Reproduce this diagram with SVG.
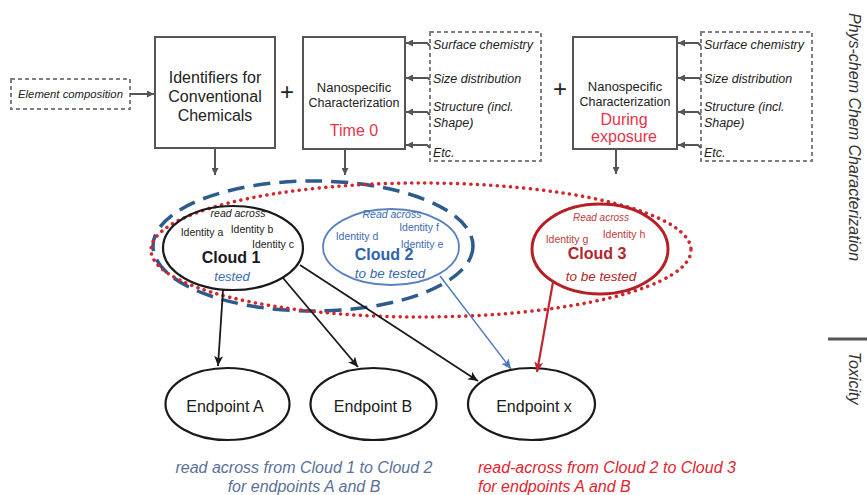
<svg xmlns="http://www.w3.org/2000/svg" width="867" height="495" viewBox="0 0 867 495">
<defs>
<style>
text{font-family:"Liberation Sans",Arial,Helvetica,sans-serif;}
.box{fill:#fff;stroke:#555;stroke-width:2;}
.dbox{fill:none;stroke:#808080;stroke-width:2;stroke-dasharray:4 3;}
.it{font-style:italic;}
.c{text-anchor:middle;}
.lbl{font-size:12.5px;font-style:italic;fill:#222;}
.conn{fill:none;stroke:#555;stroke-width:2;}
.blk{fill:none;stroke:#1a1a1a;stroke-width:1.8;}
.ep{fill:#fff;stroke:#1a1a1a;stroke-width:2.2;}
.id{font-size:10.5px;}
</style>
<marker id="ag" markerUnits="userSpaceOnUse" markerWidth="8" markerHeight="7" refX="7" refY="3.5" orient="auto"><path d="M0,0 L7,3.5 L0,7 z" fill="#555"/></marker>
<marker id="ak" markerUnits="userSpaceOnUse" markerWidth="11" markerHeight="9" refX="10" refY="4.5" orient="auto"><path d="M0,0 L10,4.5 L0,9 L2.5,4.5 z" fill="#1a1a1a"/></marker>
<marker id="ab" markerUnits="userSpaceOnUse" markerWidth="11" markerHeight="9" refX="10" refY="4.5" orient="auto"><path d="M0,0 L10,4.5 L0,9 L2.5,4.5 z" fill="#4a78bd"/></marker>
<marker id="ar" markerUnits="userSpaceOnUse" markerWidth="11" markerHeight="9" refX="10" refY="4.5" orient="auto"><path d="M0,0 L10,4.5 L0,9 L2.5,4.5 z" fill="#c0272d"/></marker>
</defs>
<rect width="867" height="495" fill="#fff"/>

<g id="element-composition">
<rect class="dbox" x="11" y="79" width="119" height="30"/>
<text class="it" x="70.5" y="98" font-size="11.3" text-anchor="middle" fill="#222">Element composition</text>
</g>

<g id="identifiers">
<rect class="box" x="155" y="37" width="120" height="111"/>
<text class="c" x="215" y="83" font-size="16" fill="#222">Identifiers for</text>
<text class="c" x="215" y="102" font-size="16" fill="#222">Conventional</text>
<text class="c" x="215" y="121" font-size="16" fill="#222">Chemicals</text>
</g>

<text x="287" y="100" font-size="24" text-anchor="middle" fill="#222">+</text>

<g id="nano-time0">
<rect class="box" x="303" y="37" width="102" height="112"/>
<text class="c" x="354" y="92" font-size="13" fill="#222">Nanospecific</text>
<text class="c" x="354" y="107" font-size="12.5" fill="#222">Characterization</text>
<text class="c" x="354" y="136" font-size="16" fill="#e8334a">Time 0</text>
</g>

<g id="props-1">
<rect class="dbox" x="430" y="32" width="111" height="129"/>
<text class="lbl" x="433" y="49">Surface chemistry</text>
<text class="lbl" x="433" y="83">Size distribution</text>
<text class="lbl" x="433" y="111">Structure (incl.</text>
<text class="lbl" x="433" y="127">Shape)</text>
<text class="lbl" x="433" y="157">Etc.</text>
</g>

<text x="560" y="97" font-size="24" text-anchor="middle" fill="#222">+</text>

<g id="nano-exposure">
<rect class="box" x="573" y="37" width="104" height="112"/>
<text class="c" x="625" y="91" font-size="13" fill="#222">Nanospecific</text>
<text class="c" x="625" y="106" font-size="12.5" fill="#222">Characterization</text>
<text class="c" x="624" y="125" font-size="16" fill="#e8334a">During</text>
<text class="c" x="624" y="142" font-size="16" fill="#e8334a">exposure</text>
</g>

<g id="props-2">
<rect class="dbox" x="701" y="32" width="111" height="129"/>
<text class="lbl" x="704" y="49">Surface chemistry</text>
<text class="lbl" x="704" y="83">Size distribution</text>
<text class="lbl" x="704" y="111">Structure (incl.</text>
<text class="lbl" x="704" y="127">Shape)</text>
<text class="lbl" x="704" y="157">Etc.</text>
</g>

<g id="groupings">
<ellipse cx="313" cy="246" rx="160" ry="65" fill="none" stroke="#2d5b8c" stroke-width="3.5" stroke-dasharray="17 9"/>
<ellipse cx="421" cy="250" rx="270" ry="67" fill="none" stroke="#d0262c" stroke-width="3.5" stroke-dasharray="0.1 6.5" stroke-linecap="round"/>
</g>

<g id="cloud1">
<ellipse cx="233" cy="248" rx="70" ry="42" fill="none" stroke="#1a1a1a" stroke-width="2.2"/>
<text class="c it id" x="238" y="217" fill="#222">read across</text>
<text class="c id" x="202" y="236" fill="#222">Identity a</text>
<text class="c id" x="252" y="233" fill="#222">Identity b</text>
<text class="c id" x="273" y="248" fill="#222">Identity c</text>
<text class="c" x="231" y="263" font-size="16" font-weight="bold" fill="#1a1a1a">Cloud 1</text>
<text class="c it" x="232" y="281" font-size="13" fill="#3d6cb3">tested</text>
</g>

<g id="cloud2">
<ellipse cx="391" cy="247" rx="68" ry="38" fill="none" stroke="#5a82c0" stroke-width="1.8"/>
<text class="c it id" x="392" y="218" fill="#3d6cb3">Read across</text>
<text class="c id" x="357" y="240" fill="#3d6cb3">Identity d</text>
<text class="c id" x="419" y="231" fill="#3d6cb3">Identity f</text>
<text class="c id" x="422" y="248" fill="#3d6cb3">Identity e</text>
<text class="c" x="384" y="260" font-size="16" font-weight="bold" fill="#2f63ad">Cloud 2</text>
<text class="c it" x="390" y="278" font-size="13.5" fill="#3a68b0">to be tested</text>
</g>

<g id="cloud3">
<ellipse cx="600" cy="249" rx="68" ry="45" fill="none" stroke="#b52025" stroke-width="3"/>
<text class="c it" x="601" y="221" font-size="10" fill="#c0393e">Read across</text>
<text class="c id" x="567" y="243" fill="#c0393e">Identity g</text>
<text class="c id" x="624" y="238" fill="#c0393e">Identity h</text>
<text class="c" x="597" y="259" font-size="16" font-weight="bold" fill="#b3262b">Cloud 3</text>
<text class="c it" x="601" y="281" font-size="13.5" fill="#b3262b">to be tested</text>
</g>

<g id="endpoint-a">
<ellipse class="ep" cx="227.5" cy="404" rx="62" ry="36"/>
<text class="c" x="225" y="412" font-size="16" fill="#1a1a1a">Endpoint A</text>
</g>
<g id="endpoint-b">
<ellipse class="ep" cx="373.5" cy="404" rx="63" ry="36"/>
<text class="c" x="373" y="412" font-size="16" fill="#1a1a1a">Endpoint B</text>
</g>
<g id="endpoint-x">
<ellipse class="ep" cx="531.5" cy="404" rx="63.5" ry="36"/>
<text class="c" x="534" y="412" font-size="16" fill="#1a1a1a">Endpoint x</text>
</g>

<g id="connectors">
<line class="conn" x1="130" y1="94" x2="154" y2="94" marker-end="url(#ag)"/>
<path class="conn" d="M430,46 L427,43 L406,43" marker-end="url(#ag)"/>
<path class="conn" d="M430,80 L428,78 L406,78" marker-end="url(#ag)"/>
<path class="conn" d="M430,115 L427,112 L406,112" marker-end="url(#ag)"/>
<path class="conn" d="M430,148 L427,145 L406,145" marker-end="url(#ag)"/>
<path class="conn" d="M701,46 L698,43 L678,43" marker-end="url(#ag)"/>
<path class="conn" d="M701,80 L699,78 L678,78" marker-end="url(#ag)"/>
<path class="conn" d="M701,115 L698,112 L678,112" marker-end="url(#ag)"/>
<path class="conn" d="M701,148 L698,145 L678,145" marker-end="url(#ag)"/>
<line class="conn" x1="215" y1="149" x2="215" y2="175" marker-end="url(#ag)"/>
<line class="conn" x1="345" y1="150" x2="345" y2="175" marker-end="url(#ag)"/>
<line class="conn" x1="616" y1="150" x2="616" y2="174" marker-end="url(#ag)"/>
<line class="blk" x1="223" y1="290" x2="218" y2="366" marker-end="url(#ak)"/>
<line class="blk" x1="283" y1="278" x2="358" y2="367" marker-end="url(#ak)"/>
<line class="blk" x1="300" y1="265" x2="478" y2="381" marker-end="url(#ak)"/>
<line x1="440" y1="276" x2="511" y2="369" stroke="#4a78bd" stroke-width="1.4" marker-end="url(#ab)"/>
<line x1="553" y1="282" x2="537" y2="372" stroke="#c0272d" stroke-width="2.2" marker-end="url(#ar)"/>
</g>

<g id="captions">
<text class="c it" x="304" y="473" font-size="16" fill="#5b6f99">read across from Cloud 1 to Cloud 2</text>
<text class="c it" x="304" y="492" font-size="16" fill="#5b6f99">for endpoints A and B</text>
<text class="it" x="478" y="473" font-size="16" fill="#e0252f">read-across from Cloud 2 to Cloud 3</text>
<text class="it" x="478" y="492" font-size="16" fill="#e0252f">for endpoints A and B</text>
</g>

<g id="side-labels">
<text class="c it" transform="translate(849,137) rotate(90)" font-size="16" fill="#333">Phys-chem Chem Characterization</text>
<line x1="828" y1="339" x2="867" y2="339" stroke="#555" stroke-width="3"/>
<text class="c it" transform="translate(849,378) rotate(90)" font-size="16" fill="#333">Toxicity</text>
</g>
</svg>
